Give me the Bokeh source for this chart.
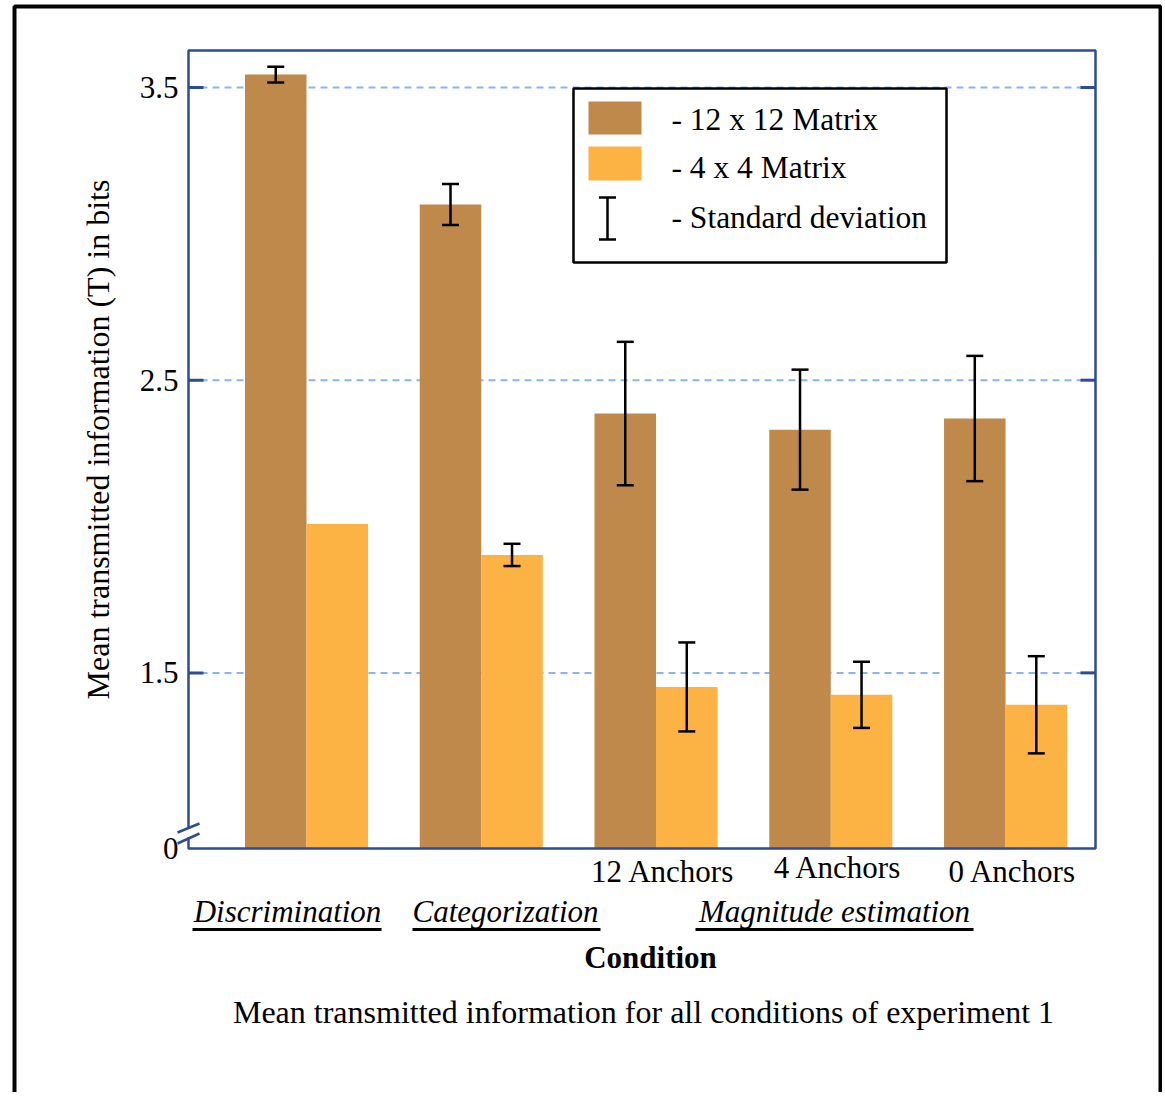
import math
from bokeh.plotting import figure
from bokeh.models import (ColumnDataSource, Whisker, TeeHead, Label, BoxAnnotation, Range1d)
from bokeh.core.properties import value
from bokeh.embed import file_html
from bokeh.resources import INLINE

# ---------------- data ----------------
conditions = ["Discrimination", "Categorization", "12 Anchors", "4 Anchors", "0 Anchors"]
sub_labels = ["", "", "12 Anchors", "4 Anchors", "0 Anchors"]
condition_groups = ["Discrimination", "Categorization", "Magnitude estimation"]
series_names = ["- 12 x 12 Matrix", "- 4 x 4 Matrix", "- Standard deviation"]
mean_12x12 = [3.544, 3.100, 2.386, 2.331, 2.369]
sd_12x12 = [0.027, 0.070, 0.245, 0.205, 0.214]
mean_4x4 = [2.009, 1.903, 1.452, 1.425, 1.391]
sd_4x4 = [0.0, 0.038, 0.152, 0.113, 0.166]
y_ticks = [0.9, 1.5, 2.5, 3.5]
y_tick_labels = ["0", "1.5", "2.5", "3.5"]
x_label = "Condition"
y_label = "Mean transmitted information (T) in bits"
caption = "Mean transmitted information for all conditions of experiment 1"

# ---------------- layout / styles ----------------
BROWN = "#BF894B"
ORANGE = "#FDB244"
FRAME = "#2E4C93"
GRID = "#8AB4F0"
FONT = "Liberation Serif"

W, H = 1162, 1092
G0 = 306.0        # pixel x of first group centre
PXU_X = 174.76    # pixels per group step
YB_PX = 848.0     # pixel y of the axis base
PXU_Y = 292.7     # pixels per bit
Y_BASE = y_ticks[0]


def px2x(px):
    return (px - G0) / PXU_X


def px2y(py):
    return Y_BASE + (YB_PX - py) / PXU_Y


X0, X1 = px2x(0), px2x(W)
Y0, Y1 = px2y(H), px2y(0)
PL, PR, PT = px2x(188), px2x(1095), px2y(50)   # plot box

p = figure(width=W, height=H, output_backend="svg", toolbar_location=None,
           x_range=Range1d(X0, X1), y_range=Range1d(Y0, Y1),
           x_axis_location=None, y_axis_location=None,
           min_border=0)
p.background_fill_color = "white"
p.border_fill_color = "white"
p.outline_line_color = None
p.grid.visible = False

xs = list(range(len(conditions)))
bw = 0.352
off = 0.176

# grid lines
gy = y_ticks[1:]
p.segment(x0=[PL] * len(gy), x1=[PR] * len(gy), y0=gy, y1=gy,
          line_color=GRID, line_width=2, line_dash="7 5")

# bars
src12 = ColumnDataSource(dict(x=[x - off for x in xs], top=mean_12x12))
src4 = ColumnDataSource(dict(x=[x + off for x in xs], top=mean_4x4))
p.vbar(x="x", top="top", bottom=Y_BASE, width=bw, source=src12, fill_color=BROWN, line_color=None)
p.vbar(x="x", top="top", bottom=Y_BASE, width=bw, source=src4, fill_color=ORANGE, line_color=None)

# tick marks (inner, both sides)
tl = 15 / PXU_X
p.segment(x0=[PL] * len(gy), x1=[PL + tl] * len(gy), y0=gy, y1=gy, line_color=FRAME, line_width=3)
p.segment(x0=[PR - tl] * len(gy), x1=[PR] * len(gy), y0=gy, y1=gy, line_color=FRAME, line_width=3)

# tick labels
p.text(x=[px2x(178)] * len(y_ticks), y=y_ticks, text=y_tick_labels,
       text_font=value(FONT), text_font_size="31px", text_align="right",
       text_baseline="middle", text_color="black")

# y axis label
p.text(x=[px2x(97)], y=[px2y(439)], text=[y_label], angle=math.pi / 2,
       text_font=value(FONT), text_font_size="32px", text_align="center",
       text_baseline="middle", text_color="black")

# plot box
p.add_layout(BoxAnnotation(left=PL, right=PR, top=PT, bottom=Y_BASE, fill_alpha=0,
                           line_color=FRAME, line_alpha=1, line_width=2.5, level="annotation"))

# axis break
p.quad(left=[px2x(185)], right=[px2x(191.5)], top=[px2y(827)], bottom=[px2y(837)],
       fill_color="white", line_color=None, level="overlay")
p.segment(x0=[px2x(177), px2x(177)], y0=[px2y(832), px2y(843)],
          x1=[px2x(199), px2x(199)], y1=[px2y(823), px2y(833)],
          line_color=FRAME, line_width=2.5, level="overlay")

# error bars
ex, eu, el = [], [], []
for i, x in enumerate(xs):
    if sd_12x12[i] > 0:
        ex.append(x - off); eu.append(mean_12x12[i] + sd_12x12[i]); el.append(mean_12x12[i] - sd_12x12[i])
    if sd_4x4[i] > 0:
        ex.append(x + off); eu.append(mean_4x4[i] + sd_4x4[i]); el.append(mean_4x4[i] - sd_4x4[i])
esrc = ColumnDataSource(dict(x=ex, upper=eu, lower=el))
wh = Whisker(source=esrc, base="x", upper="upper", lower="lower", line_color="black", line_width=2.5,
             upper_head=TeeHead(size=17, line_width=2.5, line_color="black"),
             lower_head=TeeHead(size=17, line_width=2.5, line_color="black"), level="overlay")
p.add_layout(wh)

# sub labels below bars
for i, s in enumerate(sub_labels):
    if s:
        p.add_layout(Label(x=xs[i] + 0.04, y=px2y(871 if s != "4 Anchors" else 867), text=s,
                           text_font=FONT, text_font_size="31px", text_align="center",
                           text_baseline="middle", text_color="black"))

# group labels with underlines
grp_pos = [(287, 192, 381), (505, 412, 600), (834, 695, 973)]
for g, (cx, u0, u1) in zip(condition_groups, grp_pos):
    p.add_layout(Label(x=px2x(cx), y=px2y(911), text=g, text_font=FONT, text_font_size="31px",
                       text_font_style="italic", text_align="center", text_baseline="middle",
                       text_color="black"))
    p.segment(x0=[px2x(u0)], x1=[px2x(u1)], y0=[px2y(929)], y1=[px2y(929)],
              line_color="black", line_width=3)

p.add_layout(Label(x=px2x(650), y=px2y(957), text=x_label, text_font=FONT, text_font_size="31px",
                   text_font_style="bold", text_align="center", text_baseline="middle", text_color="black"))
p.add_layout(Label(x=px2x(643), y=px2y(1011), text=caption, text_font=FONT, text_font_size="32px",
                   text_align="center", text_baseline="middle", text_color="black"))

# legend (manual)
p.add_layout(BoxAnnotation(left=px2x(573), right=px2x(946), top=px2y(88), bottom=px2y(262),
                           fill_color="white", fill_alpha=1, line_color="black", line_alpha=1,
                           line_width=2.5, level="overlay"))
for (t, b), col in [((101, 134), BROWN), ((146, 180), ORANGE)]:
    p.add_layout(BoxAnnotation(left=px2x(588), right=px2x(641), top=px2y(t), bottom=px2y(b),
                               fill_color=col, fill_alpha=1, line_color=None, level="overlay"))
lw = Whisker(source=ColumnDataSource(dict(x=[px2x(607)], u=[px2y(197)], l=[px2y(239)])),
             base="x", upper="u", lower="l", line_color="black", line_width=2.5,
             upper_head=TeeHead(size=17, line_width=2.5, line_color="black"),
             lower_head=TeeHead(size=17, line_width=2.5, line_color="black"), level="overlay")
p.add_layout(lw)
for name, yy in zip(series_names, [119, 167, 217]):
    p.add_layout(Label(x=px2x(671), y=px2y(yy), text=name, text_font=FONT, text_font_size="31.5px",
                       text_align="left", text_baseline="middle", text_color="black", level="overlay"))

# outer frame
p.add_layout(BoxAnnotation(left=px2x(14), right=px2x(1160), top=px2y(6), bottom=px2y(1200),
                           fill_alpha=0, line_color="black", line_alpha=1, line_width=4, level="overlay"))

open("out.html", "w").write(file_html(p, INLINE))
